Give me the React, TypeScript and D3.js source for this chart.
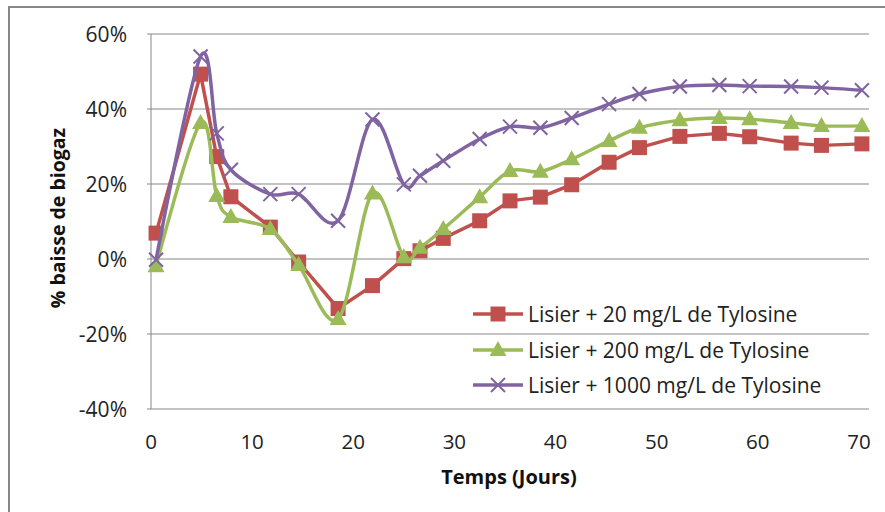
import * as d3 from 'd3';

// days of measurement (shared by all three series)
const days = [0.5, 4.9, 6.5, 7.9, 11.8, 14.6, 18.5, 21.9, 25, 26.6, 28.9, 32.5, 35.5, 38.5, 41.6, 45.3, 48.3, 52.3, 56.2, 59.2, 63.3, 66.3, 70.3];

// % baisse de biogaz
const tylo20 = [6.9, 49.3, 27.3, 16.6, 8.5, -0.8, -13.2, -7.1, 0.1, 2.2, 5.5, 10.2, 15.5, 16.5, 19.8, 25.8, 29.7, 32.7, 33.5, 32.6, 30.9, 30.3, 30.7];
const tylo200 = [-1.9, 36.3, 16.8, 11.2, 8.0, -1.6, -16.0, 17.5, 0.5, 3.0, 8.0, 16.5, 23.5, 23.3, 26.6, 31.5, 35.0, 37.0, 37.6, 37.3, 36.3, 35.5, 35.5];
const tylo1000 = [-0.2, 54.0, 33.5, 23.8, 17.3, 17.3, 10.2, 37.2, 19.9, 22.2, 26.2, 32.0, 35.3, 35.0, 37.6, 41.3, 44.0, 46.0, 46.4, 46.1, 46.0, 45.7, 45.0];

const seriesNames = ['Lisier + 20 mg/L de Tylosine', 'Lisier + 200 mg/L de Tylosine', 'Lisier + 1000 mg/L de Tylosine'];
const yTicks = [-40, -20, 0, 20, 40, 60];
const xTicks = [0, 10, 20, 30, 40, 50, 60, 70];

const FONT = '"Open Sans", "DejaVu Sans", sans-serif';
const GRID = '#878787';

type Marker = 'square' | 'triangle' | 'cross';

const series: { name: string; values: number[]; color: string; marker: Marker; smooth: boolean }[] = [
  { name: seriesNames[0], values: tylo20, color: '#C0504D', marker: 'square', smooth: false },
  { name: seriesNames[1], values: tylo200, color: '#9BBB59', marker: 'triangle', smooth: true },
  { name: seriesNames[2], values: tylo1000, color: '#8064A2', marker: 'cross', smooth: true },
];

const MarkerShape = ({ type, color, x, y }: { type: Marker; color: string; x: number; y: number }) => {
  if (type === 'square') {
    return <rect x={x - 7.5} y={y - 7.5} width={15} height={15} fill={color} />;
  }
  if (type === 'triangle') {
    return <path d={`M${x},${y - 9}L${x + 8.5},${y + 6}L${x - 8.5},${y + 6}Z`} fill={color} />;
  }
  return (
    <path
      d={`M${x - 7},${y - 7}L${x + 7},${y + 7}M${x - 7},${y + 7}L${x + 7},${y - 7}`}
      stroke={color}
      strokeWidth={2}
      fill="none"
    />
  );
};

const App = () => {
  const left = 151;
  const right = 869;
  const top = 34;
  const bottom = 409;

  const x = d3.scaleLinear().domain([0, 71]).range([left, right]);
  const y = d3.scaleLinear().domain([-40, 60]).range([bottom, top]);

  const legendY = [314, 350, 385];

  return (
    <div style={{ position: 'fixed', left: 0, top: 0, width: 885, height: 512, background: '#fff' }}>
      <svg width={885} height={512} style={{ display: 'block' }}>
        <rect x={9} y={7} width={900} height={530} fill="#fff" stroke={GRID} strokeWidth={2} />

        {/* gridlines and y ticks */}
        {yTicks.map(t => (
          <g key={t}>
            <line x1={left - 4} x2={right} y1={y(t)} y2={y(t)} stroke={GRID} strokeWidth={1} />
            <text
              x={127}
              y={y(t)}
              textAnchor="end"
              dominantBaseline="central"
              fontFamily={FONT}
              fontSize={21}
              fill="#222"
            >
              {t}%
            </text>
          </g>
        ))}
        <line x1={left} x2={left} y1={top} y2={bottom} stroke={GRID} strokeWidth={1} />

        {xTicks.map(t => (
          <text key={t} x={x(t)} y={441} textAnchor="middle" dominantBaseline="central" fontFamily={FONT} fontSize={20.5} fill="#222">
            {t}
          </text>
        ))}

        <text x={509} y={476} textAnchor="middle" dominantBaseline="central" fontFamily={FONT} fontSize={20} fontWeight="bold" fill="#111">
          Temps (Jours)
        </text>
        <text
          transform="translate(57,218) rotate(-90)"
          textAnchor="middle"
          dominantBaseline="central"
          fontFamily={FONT}
          fontSize={19.5}
          fontWeight="bold"
          fill="#111"
        >
          % baisse de biogaz
        </text>

        {/* series */}
        {series.map(s => {
          const line = d3
            .line<number>()
            .x((_, i) => x(days[i]))
            .y(d => y(d))
            .curve(s.smooth ? d3.curveCardinal.tension(0) : d3.curveLinear);
          return (
            <g key={s.name}>
              <path d={line(s.values) ?? ''} fill="none" stroke={s.color} strokeWidth={3.5} strokeLinejoin="round" />
              {s.values.map((v, i) => (
                <MarkerShape key={i} type={s.marker} color={s.color} x={x(days[i])} y={y(v)} />
              ))}
            </g>
          );
        })}

        {/* legend */}
        {series.map((s, i) => (
          <g key={s.name}>
            <line x1={473} x2={523} y1={legendY[i]} y2={legendY[i]} stroke={s.color} strokeWidth={3.5} />
            <MarkerShape type={s.marker} color={s.color} x={498} y={legendY[i]} />
            <text x={528} y={legendY[i]} dominantBaseline="central" fontFamily={FONT} fontSize={21} fill="#222">
              {s.name}
            </text>
          </g>
        ))}
      </svg>
    </div>
  );
};

export default App;
